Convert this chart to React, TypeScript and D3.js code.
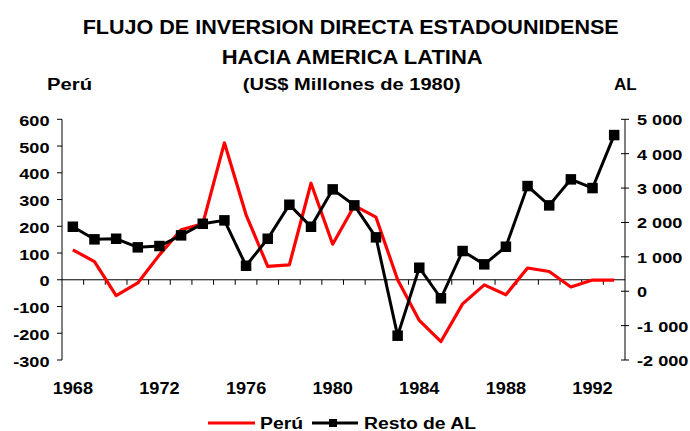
import React from 'react';
import * as d3 from 'd3';

const years = d3.range(1968, 1994);
const peru = [112, 68, -59, -12, 93, 187, 209, 512, 243, 50, 56, 361, 133, 277, 234, 0, -152, -231, -90, -19, -56, 44, 31, -27, -1, -1];
const restoAL = [1875, 1509, 1526, 1276, 1314, 1625, 1962, 2061, 741, 1526, 2515, 1875, 2962, 2497, 1567, -1293, 683, -206, 1169, 782, 1294, 3058, 2497, 3253, 3000, 4541];
const leftTicks = [600, 500, 400, 300, 200, 100, 0, -100, -200, -300];
const rightTicks = [5000, 4000, 3000, 2000, 1000, 0, -1000, -2000];
const yearLabels = [1968, 1972, 1976, 1980, 1984, 1988, 1992];

const W = 690;
const H = 431;
const left = 62;
const right = 625;
const top = 119.3;
const bottom = 360;
const font = 'Liberation Sans, Arial, sans-serif';

const fmtRight = (v: number) => {
  const s = Math.abs(v).toString().replace(/\B(?=(\d{3})+(?!\d))/g, ' ');
  return (v < 0 ? '-' : '') + s;
};

// text stretched a bit horizontally, like the original export
const Wide: React.FC<{ x: number; y: number; size: number; sx?: number; anchor?: string; children: React.ReactNode }> = ({
  x, y, size, sx = 1.17, anchor = 'start', children,
}) => (
  <text transform={`translate(${x},${y}) scale(${sx},1)`} fontSize={size} textAnchor={anchor}>{children}</text>
);

const App: React.FC = () => {
  const x = d3.scaleBand<number>().domain(years).range([left, right]).padding(0);
  const yL = d3.scaleLinear().domain([-300, 600]).range([bottom, top]);
  const yR = d3.scaleLinear().domain([-2000, 5000]).range([bottom, top]);
  const cx = (yr: number) => (x(yr) as number) + x.bandwidth() / 2;

  const peruLine = d3.line<number>()
    .x((_, i) => cx(years[i]))
    .y(d => yL(d));
  const alLine = d3.line<number>()
    .x((_, i) => cx(years[i]))
    .y(d => yR(d));

  const zeroY = yL(0);

  return (
    <svg width={W} height={H} style={{ position: 'absolute', left: 0, top: 0 }} fontFamily={font} fontWeight="bold">
      <rect width={W} height={H} fill="#fff" />
      <text x={82.7} y={34} fontSize={19.5} textLength={536} lengthAdjust="spacingAndGlyphs">FLUJO DE INVERSION DIRECTA ESTADOUNIDENSE</text>
      <text x={221.7} y={64} fontSize={19.5} textLength={261} lengthAdjust="spacingAndGlyphs">HACIA AMERICA LATINA</text>
      <text x={242.7} y={90} fontSize={16.5} textLength={218} lengthAdjust="spacingAndGlyphs">(US$ Millones de 1980)</text>
      <text x={47} y={90} fontSize={16} textLength={45} lengthAdjust="spacingAndGlyphs">Perú</text>
      <text x={614} y={90} fontSize={16} textLength={22.7} lengthAdjust="spacingAndGlyphs">AL</text>

      {/* left axis */}
      <line x1={left} x2={left} y1={top} y2={bottom} stroke="#000" />
      {leftTicks.map(t => (
        <g key={t}>
          <line x1={left - 5} x2={left} y1={yL(t)} y2={yL(t)} stroke="#000" />
          <Wide x={49.5} y={yL(t) + 6.5} size={15.5} anchor="end">{t}</Wide>
        </g>
      ))}

      {/* right axis */}
      <line x1={right} x2={right} y1={top} y2={bottom} stroke="#000" />
      {rightTicks.map(t => (
        <g key={t}>
          <line x1={right - 4} x2={right + 4} y1={yR(t)} y2={yR(t)} stroke="#000" />
          <Wide x={637} y={yR(t) + 6} size={15.5}>{fmtRight(t)}</Wide>
        </g>
      ))}

      {/* category axis on Peru zero */}
      <line x1={left} x2={right} y1={zeroY} y2={zeroY} stroke="#000" />
      {years.slice(1).map(yr => (
        <line key={yr} x1={x(yr) as number} x2={x(yr) as number} y1={zeroY} y2={zeroY + 5} stroke="#000" />
      ))}
      {yearLabels.map(yr => (
        <Wide key={yr} x={cx(yr)} y={394} size={16.5} sx={1.1} anchor="middle">{yr}</Wide>
      ))}

      <path d={peruLine(peru) || ''} fill="none" stroke="#ff0000" strokeWidth={3.2} strokeLinejoin="round" />
      <path d={alLine(restoAL) || ''} fill="none" stroke="#000" strokeWidth={3} />
      {restoAL.map((v, i) => (
        <rect key={i} x={cx(years[i]) - 5.25} y={yR(v) - 5.25} width={10.5} height={10.5} fill="#000" />
      ))}

      {/* legend */}
      <line x1={208} x2={255} y1={423} y2={423} stroke="#ff0000" strokeWidth={3.2} />
      <text x={260} y={428.5} fontSize={16} textLength={43} lengthAdjust="spacingAndGlyphs">Perú</text>
      <line x1={312} x2={358} y1={423} y2={423} stroke="#000" strokeWidth={3} />
      <rect x={329} y={419} width={8} height={8} fill="#000" />
      <text x={364} y={428.5} fontSize={16} textLength={112} lengthAdjust="spacingAndGlyphs">Resto de AL</text>
    </svg>
  );
};

export default App;
